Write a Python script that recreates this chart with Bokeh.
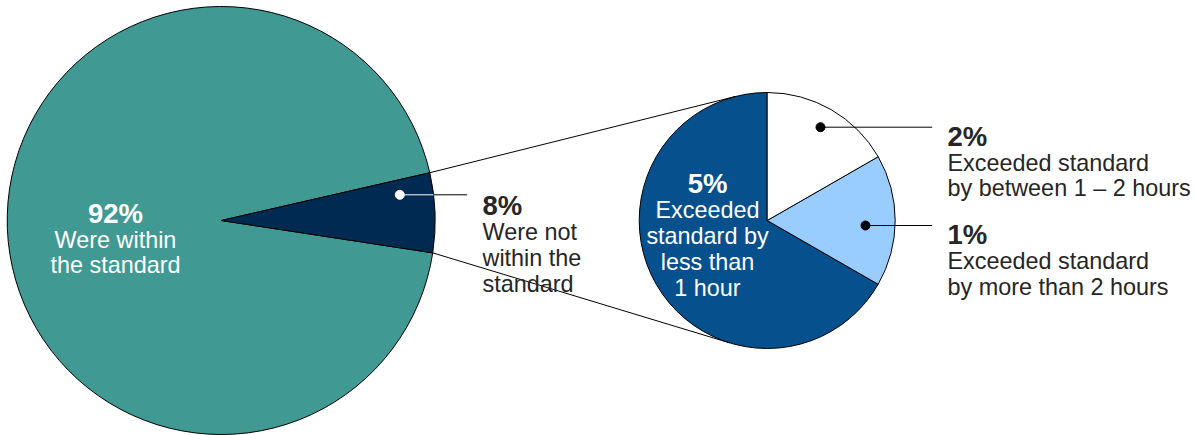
import math
from bokeh.plotting import figure
from bokeh.models import Range1d
from bokeh.core.properties import value
from bokeh.embed import file_html
from bokeh.resources import INLINE

# ---------------- data ----------------
main_pct = ["92%", "8%"]
main_desc = [["Were within", "the standard"], ["Were not", "within the", "standard"]]
main_share = [94.0, 6.0]          # visual share of the drawn slices (teal, navy)
main_colors = ["#409A93", "#002A52"]

sub_pct = ["5%", "2%", "1%"]
sub_desc = [["Exceeded", "standard by", "less than", "1 hour"],
            ["Exceeded standard", "by between 1 \u2013 2 hours"],
            ["Exceeded standard", "by more than 2 hours"]]
sub_share = [66.7, 16.7, 16.6]    # visual share of the drawn slices
sub_colors = ["#06508E", "#FFFFFF", "#99CCFF"]

# ---------------- layout (pixels) ----------------
W, H = 1195, 435
def Y(py):
    return H - py

BIG_C = (220.7, Y(220.0)); BIG_R = 214.0
SMALL_C = (766.7, Y(220.0)); SMALL_R = 128.0
BIG_START = -8.7   # start angle of the 8% slice (deg)

p = figure(width=W, height=H, x_range=Range1d(0, W), y_range=Range1d(0, H),
           output_backend="svg", toolbar_location=None, min_border=0)
p.axis.visible = False
p.grid.visible = False
p.outline_line_color = None
p.background_fill_color = "white"
p.border_fill_color = "white"

# ---- big pie: navy slice first (anticlockwise from BIG_START), then teal
navy_start = math.radians(BIG_START)
navy_end = navy_start + math.radians(main_share[1] * 3.6)
teal_end = navy_end + math.radians(main_share[0] * 3.6)
p.wedge(x=[BIG_C[0]] * 2, y=[BIG_C[1]] * 2, radius=BIG_R,
        start_angle=[navy_end, navy_start], end_angle=[teal_end, navy_end],
        fill_color=[main_colors[0], main_colors[1]], line_color="black", line_width=1)

# ---- small pie: dark (5%) from 90deg anticlockwise, then 1% light, then 2% white
a0 = math.radians(90)
dark_end = a0 + math.radians(sub_share[0] * 3.6)
light_end = dark_end + math.radians(sub_share[2] * 3.6)
white_end = light_end + math.radians(sub_share[1] * 3.6)
p.wedge(x=[SMALL_C[0]] * 3, y=[SMALL_C[1]] * 3, radius=SMALL_R,
        start_angle=[a0, dark_end, light_end], end_angle=[dark_end, light_end, white_end],
        fill_color=[sub_colors[0], sub_colors[2], sub_colors[1]], line_color="black", line_width=1)

# ---- connectors: from navy slice edges, tangent to small pie
def edge(ang):
    return (BIG_C[0] + BIG_R * math.cos(ang), BIG_C[1] + BIG_R * math.sin(ang))

def tangent(P, sign):
    dx, dy = P[0] - SMALL_C[0], P[1] - SMALL_C[1]
    d = math.hypot(dx, dy)
    th = math.atan2(dy, dx)
    t = th + sign * math.acos(SMALL_R / d)
    return (SMALL_C[0] + SMALL_R * math.cos(t), SMALL_C[1] + SMALL_R * math.sin(t))

Pt = edge(navy_end); Tt = tangent(Pt, -1)
Pb = edge(navy_start); Tb = tangent(Pb, +1)
p.segment(x0=[Pt[0], Pb[0]], y0=[Pt[1], Pb[1]], x1=[Tt[0], Tb[0]], y1=[Tt[1], Tb[1]],
          line_color="black", line_width=1)

# ---- leader for 8%
dot8 = (399.3, Y(194.3))
edge_x = BIG_C[0] + math.sqrt(BIG_R ** 2 - (dot8[1] - BIG_C[1]) ** 2)
p.segment(x0=[dot8[0]], y0=[dot8[1]], x1=[edge_x], y1=[dot8[1]], line_color="white", line_width=1)
p.segment(x0=[edge_x], y0=[dot8[1]], x1=[466.7], y1=[dot8[1]], line_color="black", line_width=1)
p.scatter(x=[dot8[0]], y=[dot8[1]], size=9, fill_color="white", line_color="white")

# ---- leaders for 2% and 1%
dots = [(820.0, Y(126.7)), (865.0, Y(225.0))]
p.segment(x0=[d[0] for d in dots], y0=[d[1] for d in dots], x1=[931.7] * 2,
          y1=[d[1] for d in dots], line_color="black", line_width=1)
p.scatter(x=[d[0] for d in dots], y=[d[1] for d in dots], size=9,
          fill_color="black", line_color="black")

# ---------------- texts ----------------
FONT = value("Liberation Sans")
BOLD_SZ = "27.5px"
BODY_SZ = "23.4px"

def block(x, base_py, pct, lines, color, align, spacing=26.0, first_gap=26.5):
    p.text(x=[x], y=[Y(base_py)], text=[pct], text_font=FONT, text_font_size=BOLD_SZ,
           text_font_style="bold", text_color=color, text_align=align, text_baseline="alphabetic")
    for i, ln in enumerate(lines):
        p.text(x=[x], y=[Y(base_py + first_gap + i * spacing)], text=[ln], text_font=FONT,
               text_font_size=BODY_SZ, text_color=color, text_align=align,
               text_baseline="alphabetic")

block(115.0, 213.3, main_pct[0], main_desc[0], "white", "center", spacing=25.0)
block(482.0, 205.0, main_pct[1], main_desc[1], "#262626", "left")
block(707.0, 183.3, sub_pct[0], sub_desc[0], "white", "center")
block(947.0, 135.5, sub_pct[1], sub_desc[1], "#262626", "left", spacing=25.6)
block(947.0, 234.0, sub_pct[2], sub_desc[2], "#262626", "left", spacing=25.6)

open("out.html", "w").write(file_html(p, INLINE))
